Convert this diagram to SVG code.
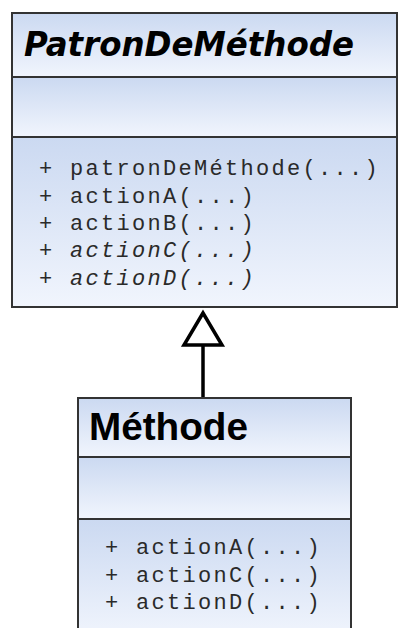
<svg xmlns="http://www.w3.org/2000/svg" width="399" height="628" viewBox="0 0 399 628">
<defs>
<linearGradient id="g" x1="0" y1="0" x2="0" y2="1">
<stop offset="0" stop-color="#cbd9f1"/>
<stop offset="1" stop-color="#f1f5fd"/>
</linearGradient>
<style>
.cmp{fill:url(#g);stroke:#333;stroke-width:2}
.t1{font-family:"DejaVu Sans",sans-serif;font-weight:bold;font-style:italic;font-size:33px;fill:#000}
.t2{font-family:"Liberation Sans",Arial,sans-serif;font-weight:bold;font-size:39px;fill:#000}
.m{font-family:"Liberation Mono","Courier New",monospace;font-size:22px;letter-spacing:2.3px;fill:#2a2a2a}
.i{font-style:italic}
.conn{stroke:#000;stroke-width:3.5;fill:none}
.head{stroke:#000;stroke-width:3.5;fill:#fff;stroke-linejoin:miter}
</style>
</defs>
<rect width="399" height="628" fill="#fff"/>
<g id="patron">
<rect class="cmp" x="12" y="13" width="385" height="64"/>
<rect class="cmp" x="12" y="77" width="385" height="60"/>
<rect class="cmp" x="12" y="137" width="385" height="170"/>
<text class="t1" x="24" y="56" textLength="330" lengthAdjust="spacingAndGlyphs">PatronDeMéthode</text>
<text class="m" x="39" y="175">+ patronDeMéthode(...)</text>
<text class="m" x="39" y="202.5">+ actionA(...)</text>
<text class="m" x="39" y="230">+ actionB(...)</text>
<text class="m i" x="39" y="257">+ actionC(...)</text>
<text class="m i" x="39" y="284.5">+ actionD(...)</text>
</g>
<g id="methode">
<rect class="cmp" x="78" y="398" width="273" height="59"/>
<rect class="cmp" x="78" y="457" width="273" height="62"/>
<rect class="cmp" x="78" y="519" width="273" height="120"/>
<text class="t2" x="89" y="440" textLength="159" lengthAdjust="spacingAndGlyphs">Méthode</text>
<text class="m" x="105" y="554">+ actionA(...)</text>
<text class="m" x="105" y="581.5">+ actionC(...)</text>
<text class="m" x="105" y="609">+ actionD(...)</text>
</g>
<g id="connectors">
<line class="conn" x1="203" y1="397" x2="203" y2="345"/>
<polygon class="head" points="203,313 184,345 222,345"/>
</g>
</svg>
